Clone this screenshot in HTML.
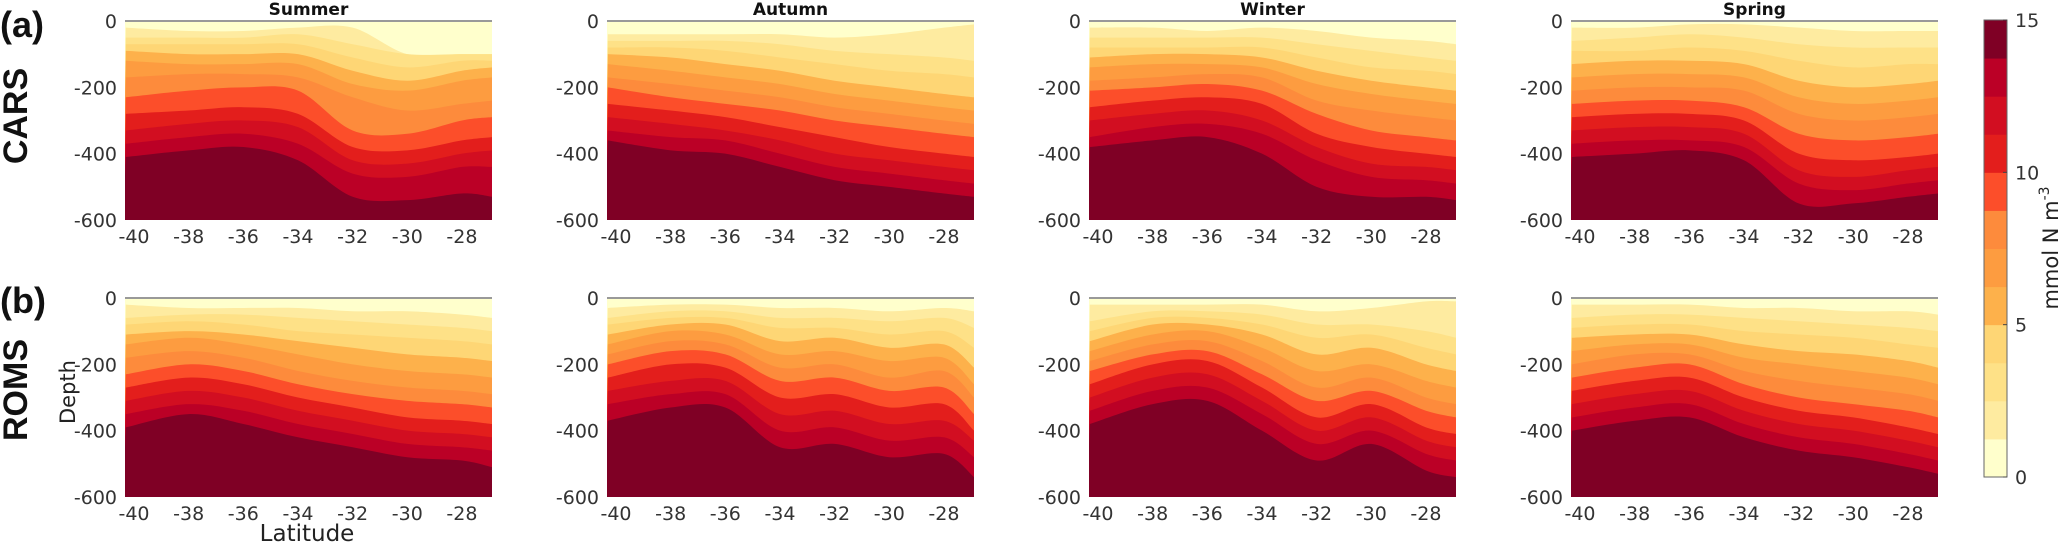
<!DOCTYPE html>
<html><head><meta charset="utf-8"><style>
body{margin:0;background:#fff;}
svg{display:block;font-family:"DejaVu Sans","Liberation Sans",sans-serif;}
</style></head><body>
<svg id="fig" width="2067" height="544" viewBox="0 0 2067 544"></svg>
<script>
const lats=[-40.3,-38,-36,-34,-32,-30,-28,-26.9];
const levels=[1.25,2.5,3.75,5,6.25,7.5,8.75,10,11.25,12.5,13.75];
const colors=["#ffffcc","#feeba0","#fee187","#fed675","#fdb14b","#fd9c40","#fd8b3c","#fc4e2a","#e31e1c","#d20e21","#bb0026","#7f0025"];
const seasons=["Summer","Autumn","Winter","Spring"];
const xTicks=[-40,-38,-36,-34,-32,-30,-28];
const yTicks=[0,-200,-400,-600];
const cbTicks=[0,5,10,15];
const carsSummer=[[-20,-30,-30,-20,-20,-100,-100,-100],[-50,-50,-50,-40,-70,-100,-100,-100],[-70,-70,-70,-70,-110,-140,-120,-120],[-90,-100,-100,-100,-150,-180,-150,-140],[-120,-130,-130,-130,-190,-210,-180,-170],[-170,-160,-160,-170,-230,-270,-250,-240],[-230,-210,-200,-210,-330,-340,-300,-290],[-280,-270,-260,-280,-380,-390,-360,-350],[-330,-310,-300,-320,-420,-430,-400,-390],[-370,-350,-340,-370,-460,-470,-440,-440],[-410,-390,-380,-420,-530,-540,-520,-530]];
const carsAutumn=[[-40,-40,-40,-40,-50,-40,-20,-10],[-60,-60,-60,-70,-90,-100,-110,-120],[-80,-80,-90,-110,-130,-150,-160,-170],[-100,-110,-130,-150,-180,-200,-220,-230],[-130,-150,-170,-190,-220,-240,-260,-270],[-170,-190,-210,-230,-260,-280,-300,-310],[-200,-230,-250,-270,-300,-320,-340,-350],[-250,-270,-290,-320,-350,-380,-400,-410],[-290,-310,-330,-360,-400,-420,-440,-450],[-330,-350,-360,-400,-440,-460,-480,-490],[-360,-390,-400,-440,-480,-500,-520,-530]];
const carsWinter=[[-20,-20,-30,-20,-30,-50,-60,-70],[-50,-50,-50,-50,-70,-90,-110,-120],[-80,-80,-80,-80,-110,-140,-150,-160],[-110,-100,-100,-110,-150,-180,-200,-210],[-140,-130,-130,-140,-190,-220,-240,-250],[-180,-170,-160,-170,-240,-270,-290,-300],[-210,-200,-190,-210,-280,-330,-350,-360],[-260,-240,-230,-250,-340,-380,-400,-410],[-300,-280,-270,-300,-380,-430,-440,-450],[-350,-320,-310,-340,-420,-470,-480,-490],[-380,-360,-350,-400,-500,-530,-530,-540]];
const carsSpring=[[-20,-20,-10,-10,-20,-30,-30,-30],[-60,-50,-40,-50,-70,-80,-80,-80],[-90,-90,-80,-90,-120,-140,-130,-130],[-130,-120,-120,-130,-180,-200,-190,-180],[-170,-160,-160,-170,-230,-250,-240,-230],[-210,-200,-200,-210,-280,-300,-290,-280],[-250,-240,-240,-260,-340,-360,-350,-340],[-290,-280,-280,-300,-400,-420,-410,-400],[-330,-320,-320,-340,-450,-470,-450,-440],[-370,-360,-360,-380,-490,-510,-490,-480],[-410,-400,-390,-420,-550,-550,-530,-520]];
const romsSummer=[[-20,-30,-30,-30,-40,-40,-50,-60],[-60,-50,-50,-60,-70,-80,-90,-100],[-80,-70,-80,-100,-110,-120,-130,-140],[-110,-100,-110,-130,-150,-170,-180,-190],[-140,-120,-140,-170,-200,-220,-230,-240],[-180,-160,-180,-220,-250,-270,-280,-290],[-230,-200,-220,-260,-290,-310,-320,-330],[-270,-240,-260,-300,-330,-360,-370,-380],[-310,-280,-300,-340,-370,-400,-410,-420],[-350,-320,-340,-380,-410,-440,-450,-460],[-390,-350,-380,-420,-450,-480,-490,-510]];
const romsAutumn=[[-30,-20,-20,-30,-30,-40,-30,-40],[-60,-40,-40,-60,-60,-70,-60,-90],[-80,-60,-60,-90,-90,-110,-100,-150],[-110,-80,-80,-130,-120,-150,-140,-210],[-140,-100,-110,-170,-160,-190,-180,-260],[-170,-130,-140,-210,-200,-240,-220,-300],[-200,-160,-170,-250,-240,-280,-270,-350],[-240,-200,-210,-300,-290,-330,-320,-400],[-280,-250,-250,-350,-340,-380,-370,-430],[-320,-290,-290,-400,-390,-430,-420,-480],[-370,-330,-330,-450,-440,-480,-470,-540]];
const romsWinter=[[-20,-20,-20,-20,-40,-30,-10,-10],[-70,-40,-40,-50,-80,-80,-100,-120],[-100,-60,-60,-80,-120,-110,-150,-170],[-130,-80,-80,-110,-170,-150,-200,-220],[-160,-110,-100,-150,-220,-200,-250,-270],[-190,-140,-130,-190,-270,-240,-300,-320],[-220,-170,-160,-230,-310,-280,-340,-360],[-260,-200,-190,-270,-360,-320,-390,-410],[-300,-240,-230,-310,-400,-360,-430,-450],[-340,-280,-270,-350,-440,-400,-470,-490],[-380,-320,-310,-400,-490,-440,-520,-540]];
const romsSpring=[[-20,-20,-20,-30,-30,-40,-40,-50],[-60,-50,-50,-60,-70,-80,-90,-100],[-90,-80,-80,-100,-110,-120,-140,-150],[-120,-110,-110,-140,-160,-170,-190,-210],[-160,-140,-140,-180,-200,-220,-240,-260],[-200,-170,-170,-220,-250,-270,-290,-310],[-240,-210,-200,-260,-300,-320,-340,-360],[-280,-250,-240,-300,-340,-360,-390,-410],[-320,-290,-280,-340,-380,-400,-430,-450],[-360,-330,-320,-380,-420,-440,-470,-490],[-400,-370,-360,-420,-460,-480,-510,-530]];
const rows=[[carsSummer,carsAutumn,carsWinter,carsSpring],[romsSummer,romsAutumn,romsWinter,romsSpring]];

const NS="http://www.w3.org/2000/svg";
const svg=document.getElementById('fig');
function mk(tag,attrs,parent){const e=document.createElementNS(NS,tag);for(const k in attrs)e.setAttribute(k,attrs[k]);(parent||svg).appendChild(e);return e;}
const PW=367,PH=199,X0=125,DX=482,Y0s=[21,298];
const latMin=-40.33,latMax=-26.9;
function sx(px,lat){return px+(lat-latMin)/(latMax-latMin)*PW;}
function sy(py,d){return py+(-d)/600*PH;}
function smooth(pts){let d="M"+pts[0][0]+","+pts[0][1];for(let i=0;i<pts.length-1;i++){const p0=pts[Math.max(0,i-1)],p1=pts[i],p2=pts[i+1],p3=pts[Math.min(pts.length-1,i+2)];const c1=[p1[0]+(p2[0]-p0[0])/6,p1[1]+(p2[1]-p0[1])/6],c2=[p2[0]-(p3[0]-p1[0])/6,p2[1]-(p3[1]-p1[1])/6];d+=" C"+c1[0]+","+c1[1]+" "+c2[0]+","+c2[1]+" "+p2[0]+","+p2[1];}return d;}

rows.forEach((row,r)=>{row.forEach((panel,c)=>{
  const px=X0+c*DX,py=Y0s[r];
  const g=mk('g',{});
  
  
  const cp=mk('clipPath',{id:'cp'+r+c},g);
  mk('rect',{x:px,y:py,width:PW,height:PH},cp);
  const bg=mk('rect',{x:px,y:py,width:PW,height:PH,fill:colors[0]},g);
  
  
  const cg=mk('g',{'clip-path':'url(#cp'+r+c+')'},g);
  panel.forEach((line,k)=>{
    const pts=lats.map((la,i)=>[sx(px,la),sy(py,line[i])]);
    const d=smooth(pts)+" L"+(px+PW+2)+","+(py+PH+2)+" L"+(px-2)+","+(py+PH+2)+" Z";
    const p=mk('path',{d:d,fill:colors[k+1]},cg);
    
    
  });
  mk('line',{x1:px,y1:py,x2:px+PW,y2:py,stroke:'#999','stroke-width':2},g);
  yTicks.forEach(t=>{const tx=mk('text',{x:px-8,y:sy(py,t)+7,'text-anchor':'end','font-size':19,fill:'#333'},g);tx.textContent=t;
    });
  xTicks.forEach(t=>{const tx=mk('text',{x:sx(px,t),y:py+PH+23,'text-anchor':'middle','font-size':19,fill:'#333'},g);tx.textContent=t;
    });
  if(r===0){const tt=mk('text',{x:px+PW/2,y:15,'text-anchor':'middle','font-size':17,'font-weight':'bold',fill:'#111'},g);tt.textContent=seasons[c];
    }
});});

function txt(s,attrs,name){const t=mk('text',attrs);t.textContent=s;return t;}
const bf='"Liberation Sans",sans-serif';
txt('(a)',{x:0,y:37,'font-size':36,'font-weight':'bold',fill:'#111','font-family':bf},'panel-label-a');
txt('(b)',{x:0,y:313,'font-size':36,'font-weight':'bold',fill:'#111','font-family':bf},'panel-label-b');
txt('CARS',{x:0,y:0,'font-size':34,'font-weight':'bold',fill:'#111','text-anchor':'middle','font-family':bf,transform:'translate(27,116) rotate(-90)'},'cars-row-label');
txt('ROMS',{x:0,y:0,'font-size':34,'font-weight':'bold',fill:'#111','text-anchor':'middle','font-family':bf,transform:'translate(27,390) rotate(-90)'},'roms-row-label');
txt('Depth',{x:0,y:0,'font-size':21,fill:'#222','text-anchor':'middle',transform:'translate(75,392) rotate(-90)'},'y-axis-title');
txt('Latitude',{x:307,y:541,'font-size':23,fill:'#222','text-anchor':'middle'},'x-axis-title');

const CX=1984,CW=23,CT=20,CB=477;
const cbg=mk('g',{});


colors.forEach((col,i)=>{const h=(CB-CT)/colors.length;const rct=mk('rect',{x:CX,y:CB-(i+1)*h,width:CW,height:h+0.5,fill:col},cbg);
  });
mk('rect',{x:CX,y:CT,width:CW,height:CB-CT,fill:'none',stroke:'#666','stroke-width':1},cbg);
cbTicks.forEach(t=>{const y=CB-t/15*(CB-CT);mk('line',{x1:CX+CW-4,x2:CX+CW,y1:y,y2:y,stroke:'#444'},cbg);
  const tx=mk('text',{x:CX+CW+8,y:y+7,'font-size':19,fill:'#333'},cbg);tx.textContent=t;
  });
const ul=mk('text',{'font-size':21,fill:'#222','text-anchor':'middle',transform:'translate(2058,248) rotate(-90)'});


ul.innerHTML='mmol N m<tspan dy="-9" font-size="14">-3</tspan>';
</script>
</body></html>
